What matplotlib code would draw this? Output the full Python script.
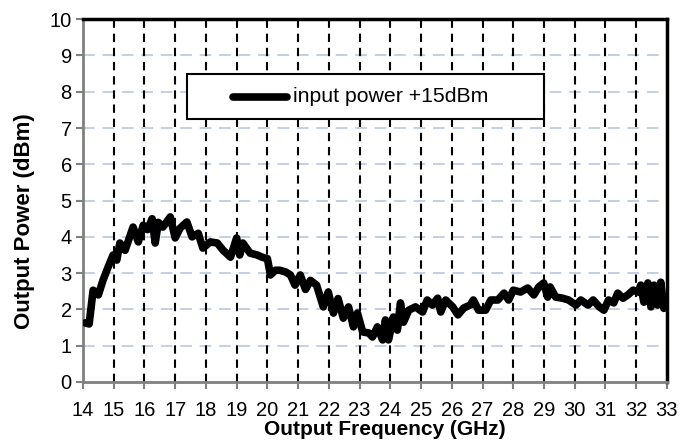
import matplotlib.pyplot as plt
from matplotlib.patches import Rectangle

plt.rcParams['font.family'] = ['Liberation Sans', 'DejaVu Sans']

# Measured output power vs output frequency (input power +15dBm)
freq_ghz = [14.07, 14.2, 14.33, 14.5, 14.65, 14.8, 14.98, 15.1, 15.2, 15.37,
            15.63, 15.8, 15.96, 16.1, 16.25, 16.35, 16.45, 16.6, 16.84, 17.0,
            17.16, 17.38, 17.55, 17.75, 17.9, 18.14, 18.37, 18.56, 18.8, 19.0,
            19.1, 19.2, 19.44, 19.67, 19.83, 20.0, 20.1, 20.26, 20.4, 20.6,
            20.75, 20.9, 21.07, 21.24, 21.4, 21.6, 21.82, 21.98, 22.15, 22.3,
            22.47, 22.64, 22.8, 22.93, 23.1, 23.3, 23.42, 23.58, 23.75, 23.84,
            23.94, 24.1, 24.23, 24.33, 24.43, 24.6, 24.82, 25.05, 25.2, 25.37,
            25.54, 25.64, 25.8, 26.03, 26.2, 26.39, 26.6, 26.7, 26.87, 27.1,
            27.27, 27.5, 27.7, 27.85, 28.0, 28.24, 28.47, 28.67, 28.83, 28.99,
            29.12, 29.2, 29.38, 29.6, 29.8, 30.04, 30.2, 30.43, 30.6, 30.8,
            30.95, 31.1, 31.27, 31.4, 31.57, 31.73, 31.9, 32.06, 32.15, 32.25,
            32.38, 32.48, 32.58, 32.7, 32.8, 32.9, 33.0]
power_dbm = [1.63, 1.6, 2.53, 2.4, 2.8, 3.13, 3.5, 3.36, 3.83, 3.63,
             4.27, 3.86, 4.32, 4.2, 4.5, 3.83, 4.4, 4.27, 4.55, 3.97,
             4.24, 4.41, 4.0, 4.1, 3.69, 3.86, 3.83, 3.63, 3.44, 3.97,
             3.5, 3.83, 3.55, 3.5, 3.44, 3.4, 2.95, 3.08, 3.08, 3.03,
             2.95, 2.67, 2.95, 2.55, 2.8, 2.67, 2.07, 2.48, 1.9, 2.3,
             1.76, 2.07, 1.52, 1.9, 1.38, 1.35, 1.24, 1.52, 1.16, 1.71,
             1.16, 1.79, 1.43, 2.18, 1.65, 1.98, 2.07, 1.93, 2.26, 2.12,
             2.31, 1.93, 2.26, 2.07, 1.85, 2.04, 2.12, 2.26, 1.98, 1.98,
             2.26, 2.26, 2.45, 2.26, 2.53, 2.48, 2.59, 2.4, 2.62, 2.73,
             2.34, 2.62, 2.34, 2.31, 2.26, 2.12, 2.26, 2.12, 2.26, 2.07,
             1.98, 2.26, 2.18, 2.45, 2.31, 2.4, 2.53, 2.48, 2.67, 2.2,
             2.73, 2.07, 2.67, 2.12, 2.75, 2.03, 2.12]

x_ticks = list(range(14, 34))
y_ticks = list(range(0, 11))

fig = plt.figure(figsize=(6.95, 4.46), dpi=100)
ax = fig.add_axes([0.1194, 0.1435, 0.8402, 0.8135])

# grid lines: black dashed verticals, light blue dashed horizontals
for xv in x_ticks[1:-1]:
    ax.axvline(xv, color='black', lw=1.5, ls=(0, (4, 2.8)), zorder=1)
for yv in y_ticks[1:-1]:
    ax.axhline(yv, color='#c3d0e4', lw=1.4, ls=(0, (6, 4)), zorder=0.5)

ax.plot(freq_ghz, power_dbm, color='black', lw=5.5, solid_joinstyle='round',
        solid_capstyle='round', zorder=3)

ax.set_xlim(14, 33)
ax.set_ylim(0, 10)
ax.set_xticks(x_ticks)
ax.set_yticks(y_ticks)
ax.tick_params(axis='both', labelsize=14.5, direction='out', length=5,
               width=1.5, color='#808080')
ax.tick_params(axis='x', pad=9)
ax.tick_params(axis='y', pad=3)
ax.set_xlabel('Output Frequency (GHz)', fontsize=15, fontweight='bold')
ax.set_ylabel('Output Power (dBm)', fontsize=16, fontweight='bold')
ax.xaxis.set_label_coords(0.517, -0.105)
ax.yaxis.set_label_coords(-0.082, 0.4435)

for side in ['left', 'bottom']:
    ax.spines[side].set_color('#808080')
    ax.spines[side].set_linewidth(2)
for side in ['top', 'right']:
    ax.spines[side].set_color('black')
    ax.spines[side].set_linewidth(2.5)

# legend box
ax.add_patch(Rectangle((0.178, 0.7245), 0.611, 0.1235, transform=ax.transAxes,
                       facecolor='white', edgecolor='black', lw=1.5, zorder=4))
ax.plot([0.257, 0.35], [0.786, 0.786], transform=ax.transAxes, color='black',
        lw=5.5, solid_capstyle='round', zorder=5)
ax.text(0.36, 0.786, 'input power +15dBm', transform=ax.transAxes,
        fontsize=15.3, va='center', ha='left', zorder=5)

fig.savefig('out.png', dpi=100)
